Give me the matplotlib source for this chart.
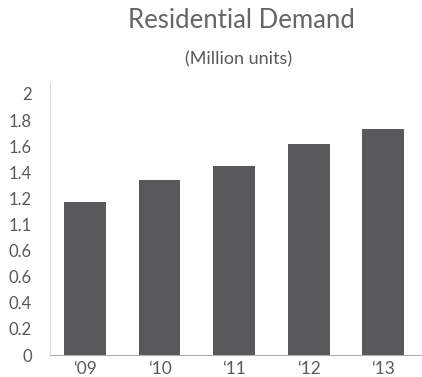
import matplotlib
matplotlib.use("Agg")
import matplotlib.pyplot as plt

years = ["\u201809", "\u201810", "\u201811", "\u201812", "\u201813"]
demand = [1.17, 1.34, 1.45, 1.62, 1.73]

# tick labels as printed on the original chart
ytick_pos = [0, 0.2, 0.4, 0.6, 0.8, 1.0, 1.2, 1.4, 1.6, 1.8, 2.0]
ytick_txt = ["0", "0.2", "0.4", "0.6", "0.6", "1.1", "1.2", "1.4", "1.6", "1.8", "2"]

plt.rcParams['font.family'] = ['Lato', 'DejaVu Sans']
txt_col = '#595959'

fig = plt.figure(figsize=(4.22, 3.77), dpi=100)
ax = fig.add_axes([50 / 422, 22 / 377, 372 / 422, 272 / 377])

x = range(len(years))
ax.bar(x, demand, width=0.56, color='#58595b')

ax.set_xlim(-0.47, 4.52)
ax.set_ylim(0, 2.084)
ax.set_xticks(list(x))
ax.set_xticklabels(years, fontsize=12.5, color=txt_col)
ax.set_yticks(ytick_pos)
ax.set_yticklabels(ytick_txt, fontsize=12, color=txt_col)
ax.tick_params(axis='y', length=0, pad=13)
ax.tick_params(axis='x', length=0, pad=4)

for s in ['top', 'right']:
    ax.spines[s].set_visible(False)
ax.spines['left'].set_color('#d9d9d9')
ax.spines['bottom'].set_color('#b0b0b0')

fig.text(241 / 422, 1 - 21 / 377, "Residential Demand", ha='center', va='center',
         fontsize=18.5, color='#666666')
fig.text(239 / 422, 1 - 59 / 377, "(Million units)", ha='center', va='center',
         fontsize=13, color=txt_col)

fig.savefig("out.png", dpi=100)
